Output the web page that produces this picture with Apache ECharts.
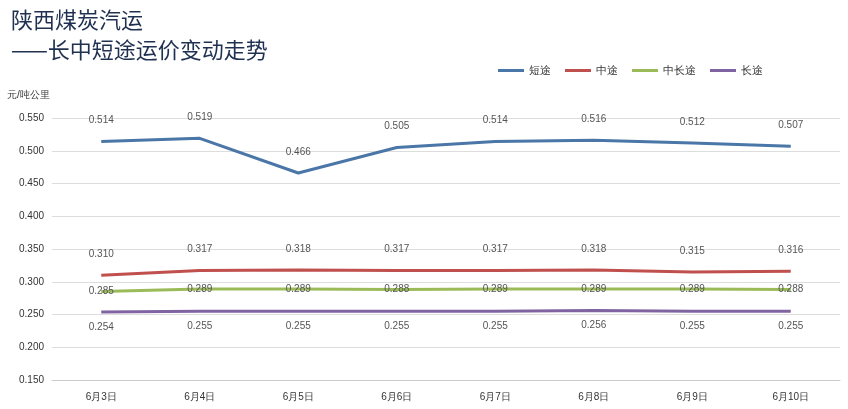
<!DOCTYPE html>
<html><head><meta charset="utf-8">
<script src="https://cdn.jsdelivr.net/npm/echarts@6/dist/echarts.min.js"></script>
<style>html,body{margin:0;padding:0;background:#fff}#c{width:848px;height:409px}</style>
</head><body><div id="c"></div>
<script>
const categories=['6月3日','6月4日','6月5日','6月6日','6月7日','6月8日','6月9日','6月10日'];
const shortTrip=[0.514,0.519,0.466,0.505,0.514,0.516,0.512,0.507];
const midTrip=[0.310,0.317,0.318,0.317,0.317,0.318,0.315,0.316];
const midLongTrip=[0.285,0.289,0.289,0.288,0.289,0.289,0.289,0.288];
const longTrip=[0.254,0.255,0.255,0.255,0.255,0.256,0.255,0.255];
const chart=echarts.init(document.getElementById('c'));
function s(name,data,color,pos,dist){return {name,type:'line',data,symbol:'circle',symbolSize:0.1,showSymbol:true,lineStyle:{width:3,color},itemStyle:{color},
 label:{show:true,position:pos,distance:dist,color:'#555',fontSize:10,formatter:p=>p.value.toFixed(3)}};}
chart.setOption({
 animation:false,
 title:[{text:'陕西煤炭汽运',left:6,top:4,textStyle:{fontSize:22,fontWeight:'normal',color:'#1f3050',fontFamily:'Noto Sans CJK SC'}},
        {text:'——长中短途运价变动走势',left:6,top:34,textStyle:{fontSize:22,fontWeight:'normal',color:'#1f3050',fontFamily:'Noto Sans CJK SC'}}],
 legend:{top:60,right:80,itemWidth:26,itemHeight:3,icon:'rect',itemGap:14,textStyle:{fontSize:11,color:'#333'}},
 grid:{left:52,right:8,top:118,bottom:29},
 xAxis:{type:'category',data:categories,axisTick:{show:false},axisLine:{lineStyle:{color:'#ccc'}},axisLabel:{fontSize:10,color:'#333',margin:12}},
 yAxis:{type:'value',name:'元/吨公里',nameLocation:'end',nameGap:18,nameTextStyle:{align:'left',padding:[0,0,0,-45],fontSize:10,color:'#333'},
   min:0.15,max:0.55,interval:0.05,axisLabel:{formatter:v=>v.toFixed(3),fontSize:10,color:'#333'},splitLine:{lineStyle:{color:'#ddd'}}},
 series:[s('短途',shortTrip,'#4a76a8','top',16),s('中途',midTrip,'#c0504d','top',16),s('中长途',midLongTrip,'#9bbb59','inside',0),s('长途',longTrip,'#8064a2','bottom',10)]
});
</script></body></html>
